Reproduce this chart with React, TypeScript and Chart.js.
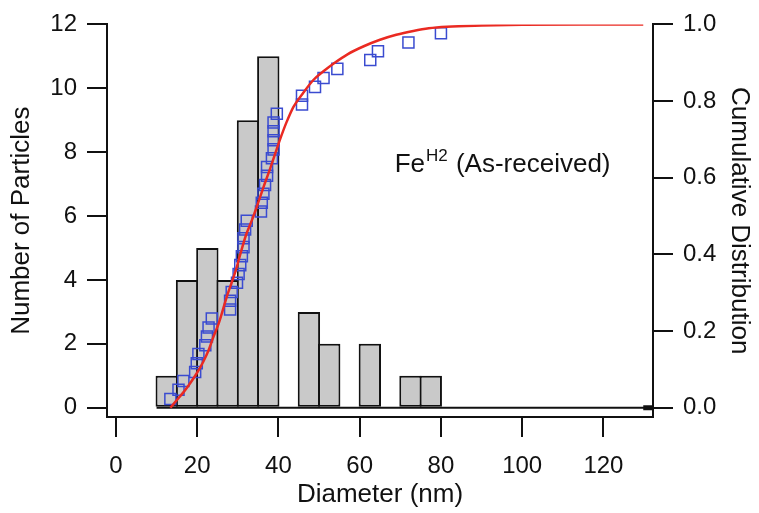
import React, { useEffect, useRef } from "react";
import { Chart, registerables } from "chart.js";

Chart.register(...registerables);

// Histogram: bin centres (nm) and particle counts (5 nm bins)
const binCenters = [12.5, 17.5, 22.5, 27.5, 32.5, 37.5, 42.5, 47.5, 52.5, 57.5, 62.5, 67.5, 72.5, 77.5];
const binCounts = [1, 4, 5, 4, 9, 11, 0, 3, 2, 0, 2, 0, 1, 1];

// Measured cumulative distribution (blue squares)
const cumDiam = [
  13.4, 15.4, 16.6, 19.5, 19.9, 20.3, 22.0, 22.4, 22.8, 23.6,
  28.1, 28.1, 28.5, 29.8, 30.2, 30.6, 31.0, 31.4, 31.4, 31.8,
  32.2, 35.7, 35.9, 36.3, 36.7, 37.2, 37.2, 38.4, 38.8, 38.8,
  38.8, 38.8, 39.6, 45.8, 45.8, 49.0, 51.1, 54.5, 62.6, 64.5,
  72.0, 80.0,
];
const cumFrac = [
  0.023, 0.047, 0.070, 0.093, 0.116, 0.140, 0.163, 0.186, 0.209, 0.233,
  0.256, 0.279, 0.302, 0.326, 0.349, 0.372, 0.395, 0.419, 0.442, 0.465,
  0.488, 0.512, 0.535, 0.558, 0.581, 0.605, 0.628, 0.651, 0.674, 0.698,
  0.721, 0.744, 0.767, 0.791, 0.814, 0.837, 0.860, 0.884, 0.907, 0.930,
  0.953, 0.977,
];

// Fitted cumulative curve (red line)
const fitDiam = [
  13.4, 15.0, 16.6, 18.0, 19.9, 21.5, 22.8, 24.0, 25.3, 27.3,
  29.4, 30.6, 32.0, 33.5, 34.7, 36.3, 38.0, 40.4, 42.0, 43.7,
  46.0, 48.6, 51.0, 53.6, 57.0, 61.0, 65.0, 69.0, 73.2, 77.0,
  81.5, 90.0, 100.0, 115.0, 129.8,
];
const fitFrac = [
  0.0, 0.02, 0.04, 0.06, 0.09, 0.12, 0.15, 0.185, 0.22, 0.29,
  0.355, 0.40, 0.45, 0.49, 0.525, 0.575, 0.625, 0.70, 0.745, 0.785,
  0.82, 0.855, 0.877, 0.898, 0.922, 0.943, 0.96, 0.973, 0.983, 0.99,
  0.994, 0.997, 0.999, 1.0, 1.0,
];

// Histogram baseline and its end mark
const baseX = [10, 132.2];
const endMarkX = [129.8, 132.2];

const xTicks = [0, 20, 40, 60, 80, 100, 120];
const yTicks = [0, 2, 4, 6, 8, 10, 12];
const y2Ticks = [0, 0.2, 0.4, 0.6, 0.8, 1.0];

const xRange = [-2.2, 132.2];
const yRange = [-0.29, 12];
const y2Range = [-0.0242, 1.0];

const labelMain = "Fe";
const labelSup = "H2";
const labelRest = " (As-received)";
const labelPos = [68.6, 0.614];

const FONT = "'Liberation Sans', Arial, Helvetica, sans-serif";

export default function App() {
  const ref = useRef<HTMLCanvasElement | null>(null);

  useEffect(() => {
    document.body.style.margin = "0";
    const canvas = ref.current;
    if (!canvas) return;

    const textPlugin = {
      id: "feLabel",
      afterDatasetsDraw(chart: any) {
        const { ctx, scales } = chart;
        const x = scales.x.getPixelForValue(labelPos[0]);
        const y = scales.y2.getPixelForValue(labelPos[1]);
        ctx.save();
        ctx.fillStyle = "#111";
        ctx.textBaseline = "alphabetic";
        ctx.textAlign = "left";
        ctx.font = `26px ${FONT}`;
        ctx.fillText(labelMain, x, y);
        const w1 = ctx.measureText(labelMain).width;
        ctx.font = `17px ${FONT}`;
        ctx.fillText(labelSup, x + w1 + 1, y - 11);
        const w2 = ctx.measureText(labelSup).width;
        ctx.font = `26px ${FONT}`;
        ctx.fillText(labelRest, x + w1 + 1 + w2 + 1, y);
        ctx.restore();
      },
    };

    const axisCommon = {
      grid: {
        drawOnChartArea: false,
        drawTicks: true,
        tickLength: 20,
        lineWidth: 2,
        color: "#111",
        tickColor: "#111",
      },
      border: { display: true, color: "#111", width: 2 },
    };

    const chart = new Chart(canvas, {
      type: "bar",
      data: {
        datasets: [
          {
            type: "line",
            label: "fit",
            data: fitDiam.map((d, i) => ({ x: d, y: fitFrac[i] })),
            yAxisID: "y2",
            borderColor: "#ea2a22",
            borderWidth: 2.5,
            pointRadius: 0,
            cubicInterpolationMode: "monotone",
            fill: false,
            order: 1,
          } as any,
          {
            type: "line",
            label: "cumulative",
            data: cumDiam.map((d, i) => ({ x: d, y: cumFrac[i] })),
            yAxisID: "y2",
            showLine: false,
            pointStyle: "rect",
            pointRadius: 7.8,
            pointBorderWidth: 1.5,
            pointBorderColor: "#3a4bd0",
            pointBackgroundColor: "rgba(0,0,0,0)",
            order: 2,
          } as any,
          {
            type: "bar",
            label: "counts",
            data: binCenters.map((c, i) => ({ x: c, y: binCounts[i] })),
            yAxisID: "y",
            backgroundColor: "#c9c9c9",
            borderColor: "#111",
            borderWidth: 2,
            borderSkipped: false,
            barPercentage: 1.1,
            categoryPercentage: 1,
            order: 3,
          } as any,
          {
            type: "line",
            label: "baseline",
            data: baseX.map((x) => ({ x, y: 0 })),
            yAxisID: "y",
            borderColor: "#111",
            borderWidth: 2,
            pointRadius: 0,
            order: 4,
          } as any,
          {
            type: "line",
            label: "endmark",
            data: endMarkX.map((x) => ({ x, y: 0 })),
            yAxisID: "y",
            borderColor: "#111",
            borderWidth: 5,
            pointRadius: 0,
            order: 4,
          } as any,
        ],
      },
      options: {
        animation: false,
        responsive: false,
        maintainAspectRatio: false,
        devicePixelRatio: 1,
        layout: { padding: { top: 23, left: 0, right: 0, bottom: 0 } },
        plugins: { legend: { display: false }, tooltip: { enabled: false } },
        font: { family: FONT },
        scales: {
          x: {
            type: "linear",
            position: "bottom",
            offset: false,
            min: xRange[0],
            max: xRange[1],
            ...axisCommon,
            grid: { ...axisCommon.grid, offset: false },
            afterBuildTicks: (s: any) => {
              s.ticks = xTicks.map((v) => ({ value: v }));
            },
            afterFit: (s: any) => {
              s.height = 96;
            },
            ticks: {
              color: "#111",
              font: { family: FONT, size: 24 },
              padding: 15,
              maxRotation: 0,
              autoSkip: false,
            },
            title: {
              display: true,
              text: "Diameter (nm)",
              color: "#111",
              font: { family: FONT, size: 26 },
              padding: { top: 0, bottom: 3 },
            },
          },
          y: {
            type: "linear",
            position: "left",
            min: yRange[0],
            max: yRange[1],
            ...axisCommon,
            afterBuildTicks: (s: any) => {
              s.ticks = yTicks.map((v) => ({ value: v }));
            },
            afterFit: (s: any) => {
              s.width = 107;
            },
            ticks: {
              color: "#111",
              font: { family: FONT, size: 24 },
              padding: 10,
              autoSkip: false,
            },
            title: {
              display: true,
              text: "Number of Particles",
              color: "#111",
              font: { family: FONT, size: 26 },
              padding: { top: 6, bottom: 0 },
            },
          },
          y2: {
            type: "linear",
            position: "right",
            min: y2Range[0],
            max: y2Range[1],
            ...axisCommon,
            afterBuildTicks: (s: any) => {
              s.ticks = y2Ticks.map((v) => ({ value: v }));
            },
            afterFit: (s: any) => {
              s.width = 106;
            },
            ticks: {
              color: "#111",
              font: { family: FONT, size: 24 },
              padding: 10,
              autoSkip: false,
              callback: (v: any) => Number(v).toFixed(1),
            },
            title: {
              display: true,
              text: "Cumulative Distribution",
              color: "#111",
              font: { family: FONT, size: 26 },
              padding: { top: 4, bottom: 0 },
            },
          },
        },
      } as any,
      plugins: [textPlugin],
    });

    return () => chart.destroy();
  }, []);

  return (
    <div style={{ width: 759, height: 513, background: "#fff" }}>
      <canvas ref={ref} width={759} height={513} style={{ display: "block" }} />
    </div>
  );
}
